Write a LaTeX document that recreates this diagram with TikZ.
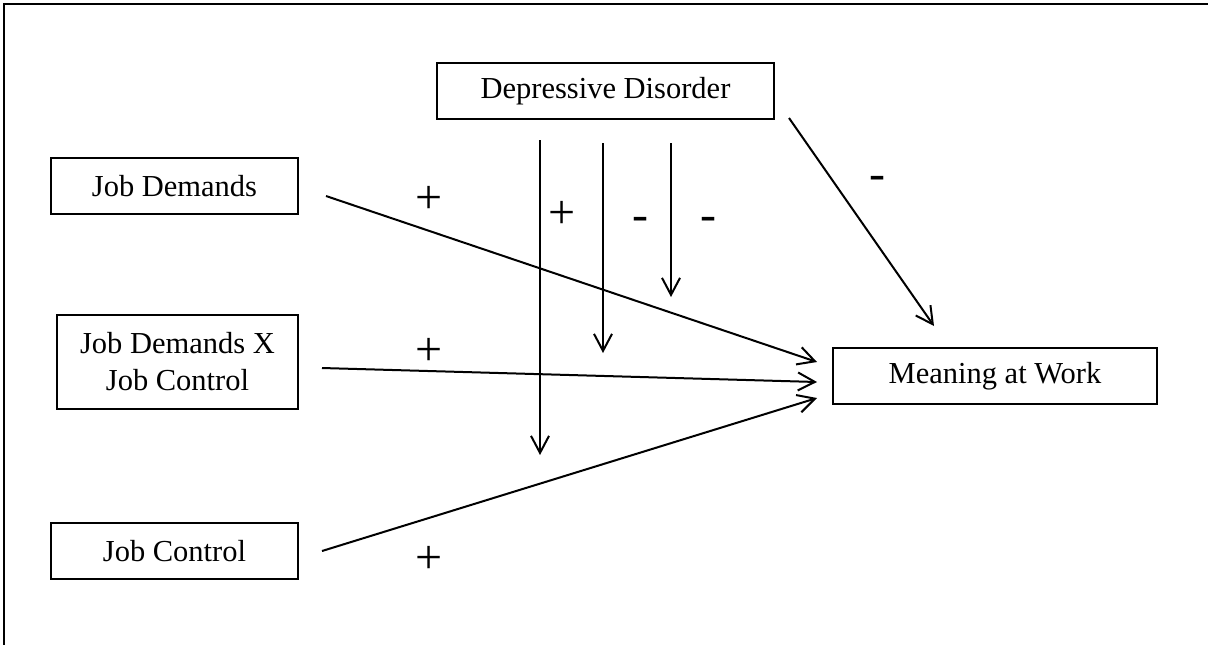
\documentclass[tikz,border=0pt]{standalone}
\usepackage{fontspec}
\setmainfont{Liberation Serif}
\usepackage{tikz}
\usetikzlibrary{arrows,arrows.meta}
\tikzstyle{block} = [draw, fill=white, rectangle, line width=1pt, minimum height=28pt, align=center, font=\fontsize{15.25}{18.5}\selectfont]
\tikzstyle{sign} = [inner sep=0pt, font=\fontsize{24}{24}\selectfont]
\tikzstyle{coord} = [coordinate]

\begin{document}
\begin{tikzpicture}[x=0.5pt, y=-0.5pt, >={Straight Barb[length=8.5pt, width=9pt]}, line width=1pt]
	\clip (0,0) rectangle (1208,644);
	\draw [line width=1.3pt] (4,4) rectangle (1240,680);

	\node [block, minimum width=168.5pt] (depression) at (605.5,91) {Depressive Disorder};
	\node [block, minimum width=123.5pt] (demands) at (174.5,186) {Job Demands};
	\node [block, minimum width=120.5pt, minimum height=47pt] (interaction) at (177.5,362)
		{Job Demands X\\Job Control};
	\node [block, minimum width=123.5pt] (control) at (174.5,551) {Job Control};
	\node [block, minimum width=162pt] (meaning) at (995,376) {Meaning at Work};

	\node [coord] (demandsOut) at (326,196) {};
	\node [coord] (demandsIn) at (817,362) {};
	\node [coord] (interactionOut) at (322,368) {};
	\node [coord] (interactionIn) at (817,382) {};
	\node [coord] (controlOut) at (322,551) {};
	\node [coord] (controlIn) at (817,398) {};
	\node [coord] (depressionOut) at (789,118) {};
	\node [coord] (depressionIn) at (934,326) {};
	\node [coord] (modAtop) at (540,140) {};
	\node [coord] (modAend) at (540,455) {};
	\node [coord] (modBtop) at (603,143) {};
	\node [coord] (modBend) at (603,353) {};
	\node [coord] (modCtop) at (671,143) {};
	\node [coord] (modCend) at (671,297) {};

	\draw [->] (demandsOut) -- (demandsIn);
	\draw [->] (interactionOut) -- (interactionIn);
	\draw [->] (controlOut) -- (controlIn);
	\draw [->] (depressionOut) -- (depressionIn);
	\draw [->] (modAtop) -- (modAend);
	\draw [->] (modBtop) -- (modBend);
	\draw [->] (modCtop) -- (modCend);

	\node [sign] (signDemands) at (429,200) {+};
	\node [sign] (signInteraction) at (429,352) {+};
	\node [sign] (signControl) at (429,560) {+};
	\node [sign] (signA) at (562,215) {+};
	\node [sign] (signB) at (640,224) {-};
	\node [sign] (signC) at (708,224) {-};
	\node [sign] (signDirect) at (877,183) {-};
\end{tikzpicture}
\end{document}
